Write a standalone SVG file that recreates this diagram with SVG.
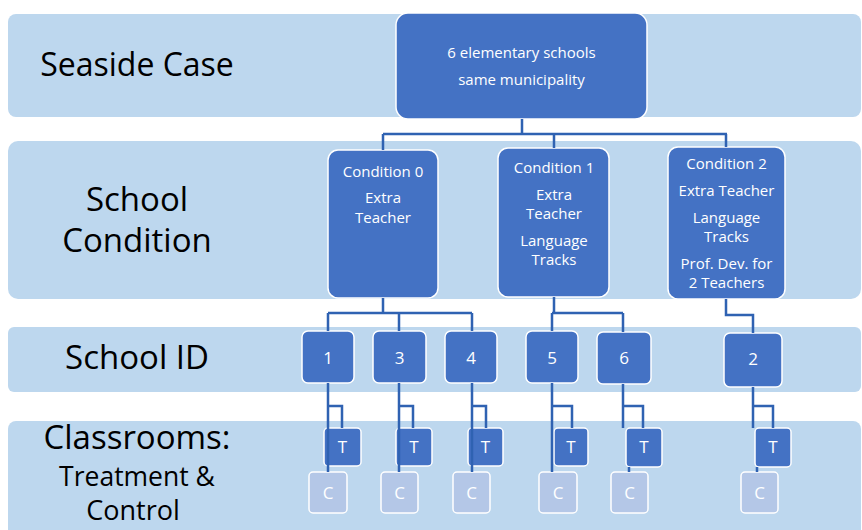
<svg xmlns="http://www.w3.org/2000/svg" width="862" height="530" viewBox="0 0 862 530">
<style>
.band{fill:#bdd7ee}
.box{fill:#4472c4;stroke:#ffffff;stroke-width:1.5}
.cbox{fill:#b4c7e7;stroke:#ffffff;stroke-width:1.5}
.lbl{font-family:"Open Sans","Noto Sans",sans-serif;fill:#000000;text-anchor:middle}
.bt{font-family:"Open Sans","Noto Sans",sans-serif;fill:#ffffff;text-anchor:middle;font-size:15px}
.tc{font-size:17px}
.conn{fill:none;stroke:#2f62b2;stroke-width:2.5}
</style>
<rect width="862" height="530" fill="#ffffff"/>
<g id="bands">
<rect class="band" x="8" y="14" width="853" height="103" rx="8"/>
<rect class="band" x="8" y="141" width="853" height="158" rx="10"/>
<rect class="band" x="8" y="327" width="853" height="65" rx="6"/>
<rect class="band" x="8" y="421" width="853" height="130" rx="8"/>
</g>
<g id="labels">
<text class="lbl" x="137" y="76" font-size="32">Seaside Case</text>
<text class="lbl" x="137" y="211" font-size="33">School</text>
<text class="lbl" x="137" y="252" font-size="33">Condition</text>
<text class="lbl" x="137" y="369" font-size="33">School ID</text>
<text class="lbl" x="137" y="449" font-size="33">Classrooms:</text>
<text class="lbl" x="137" y="486" font-size="26.5">Treatment &amp;</text>
<text class="lbl" x="133" y="520" font-size="27">Control</text>
</g>
<g id="root">
<rect class="box" x="396" y="13" width="251" height="106" rx="12"/>
<text class="bt" x="521.5" y="58">6 elementary schools</text>
<text class="bt" x="521.5" y="85">same municipality</text>
</g>
<g id="cond0">
<rect class="box" x="328" y="150" width="110" height="148" rx="10"/>
<text class="bt" x="383" y="177">Condition 0</text>
<text class="bt" x="383" y="203">Extra</text>
<text class="bt" x="383" y="223">Teacher</text>
</g>
<g id="cond1">
<rect class="box" x="498" y="148" width="111" height="149" rx="10"/>
<text class="bt" x="554" y="173">Condition 1</text>
<text class="bt" x="554" y="200">Extra</text>
<text class="bt" x="554" y="219">Teacher</text>
<text class="bt" x="554" y="246">Language</text>
<text class="bt" x="554" y="265">Tracks</text>
</g>
<g id="cond2">
<rect class="box" x="668" y="147" width="117" height="152" rx="10"/>
<text class="bt" x="726.5" y="169">Condition 2</text>
<text class="bt" x="726.5" y="196">Extra Teacher</text>
<text class="bt" x="726.5" y="223">Language</text>
<text class="bt" x="726.5" y="242">Tracks</text>
<text class="bt" x="726.5" y="269">Prof. Dev. for</text>
<text class="bt" x="726.5" y="288">2 Teachers</text>
</g>
<g id="school1"><rect class="box" x="302" y="331" width="52" height="52" rx="6"/><text class="bt tc" x="328" y="364">1</text></g>
<g id="school3"><rect class="box" x="373" y="331" width="53" height="52" rx="6"/><text class="bt tc" x="399.5" y="364">3</text></g>
<g id="school4"><rect class="box" x="445" y="331" width="52" height="52" rx="6"/><text class="bt tc" x="471" y="364">4</text></g>
<g id="school5"><rect class="box" x="526" y="331" width="52" height="52" rx="6"/><text class="bt tc" x="552" y="364">5</text></g>
<g id="school6"><rect class="box" x="597" y="332" width="54" height="52" rx="6"/><text class="bt tc" x="624" y="364">6</text></g>
<g id="school2"><rect class="box" x="724" y="333" width="58" height="54" rx="6"/><text class="bt tc" x="753" y="365">2</text></g>
<g id="t1"><rect class="box" x="324" y="428" width="37" height="38" rx="4"/><text class="bt tc" x="342.5" y="453">T</text></g>
<g id="c1"><rect class="cbox" x="309" y="472" width="38" height="41" rx="4"/><text class="bt tc" x="328" y="499">C</text></g>
<g id="t3"><rect class="box" x="396" y="428" width="36" height="38" rx="4"/><text class="bt tc" x="414" y="453">T</text></g>
<g id="c3"><rect class="cbox" x="381" y="472" width="37" height="41" rx="4"/><text class="bt tc" x="399.5" y="499">C</text></g>
<g id="t4"><rect class="box" x="468" y="428" width="35" height="38" rx="4"/><text class="bt tc" x="485.5" y="453">T</text></g>
<g id="c4"><rect class="cbox" x="453" y="472" width="37" height="41" rx="4"/><text class="bt tc" x="471.5" y="499">C</text></g>
<g id="t5"><rect class="box" x="554" y="428" width="34" height="38" rx="4"/><text class="bt tc" x="571" y="453">T</text></g>
<g id="c5"><rect class="cbox" x="539" y="472" width="38" height="41" rx="4"/><text class="bt tc" x="558" y="499">C</text></g>
<g id="t6"><rect class="box" x="626" y="428" width="36" height="39" rx="4"/><text class="bt tc" x="644" y="453">T</text></g>
<g id="c6"><rect class="cbox" x="611" y="472" width="37" height="41" rx="4"/><text class="bt tc" x="629.5" y="499">C</text></g>
<g id="t2"><rect class="box" x="755" y="428" width="36" height="39" rx="4"/><text class="bt tc" x="773" y="453">T</text></g>
<g id="c2"><rect class="cbox" x="741" y="472" width="37" height="41" rx="4"/><text class="bt tc" x="759.5" y="499">C</text></g>
<g id="connectors" class="conn">
<path d="M522 119V134M383 134H727M383 134V150M554 134V148M726 134V147"/>
<path d="M383 298V313M328 313H472M328 313V331M399 313V331M472 313V331"/>
<path d="M554 297V313M552 313H623M552 313V331M623 313V332"/>
<path d="M726 299V315H753V333"/>
<path d="M328 383V472M328 406H342V428"/>
<path d="M399 383V472M399 406H413V428"/>
<path d="M472 383V472M472 406H486V428"/>
<path d="M552 383V472M552 406H572V428"/>
<path d="M623 384V428M629 467V472M623 406H643V428"/>
<path d="M753 387V428M757 467V472M753 406H773V428"/>
</g>
</svg>
